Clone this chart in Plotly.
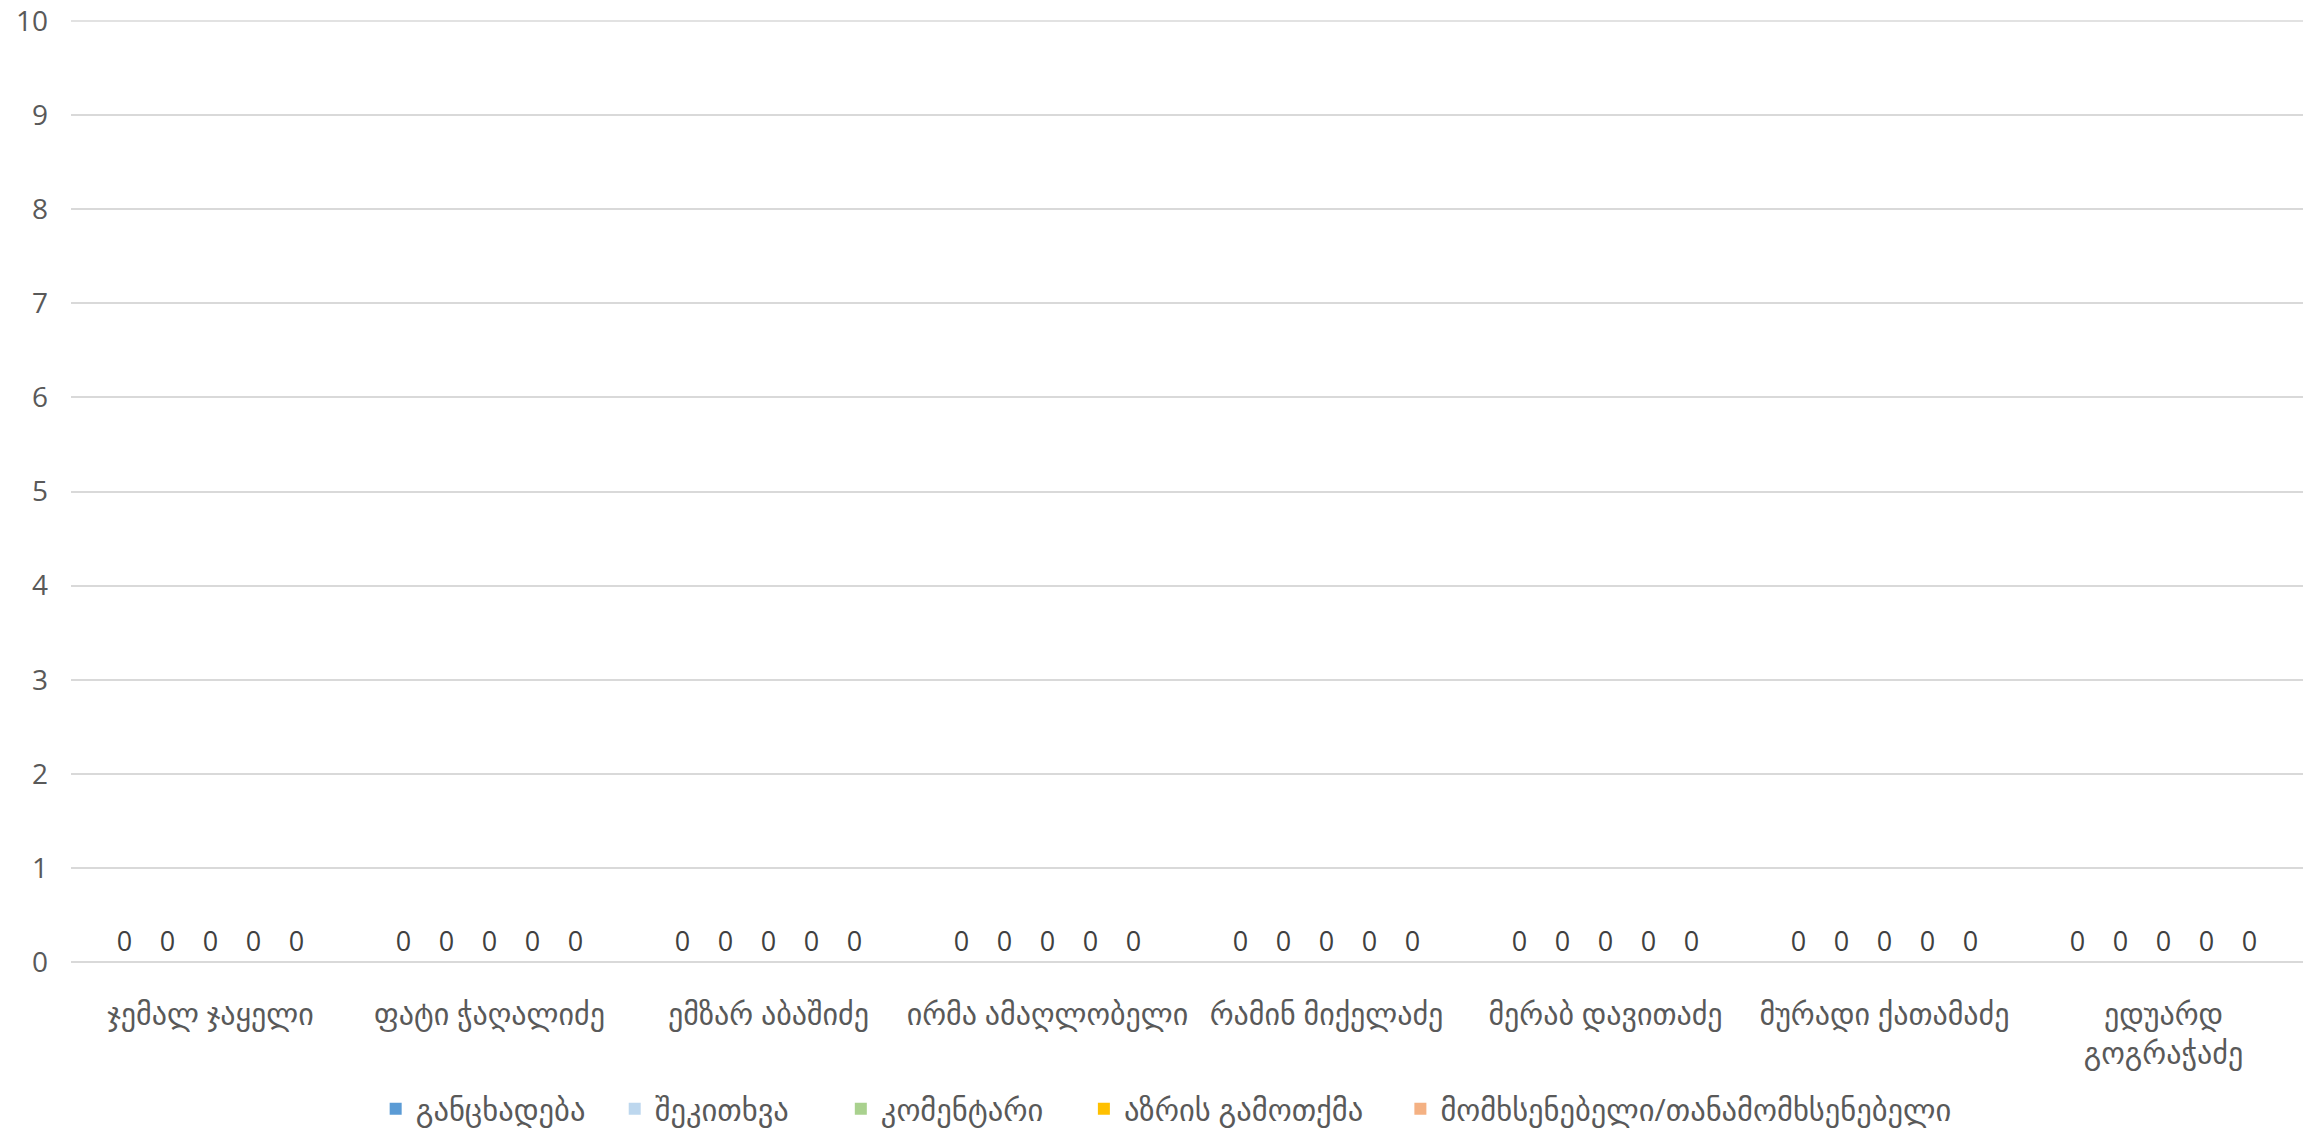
import plotly.graph_objects as go

categories = ["ჯემალ ჯაყელი", "ფატი ჭაღალიძე", "ემზარ აბაშიძე", "ირმა ამაღლობელი",
              "რამინ მიქელაძე", "მერაბ დავითაძე", "მურადი ქათამაძე", "ედუარდ<br>გოგრაჭაძე"]
series_names = ["განცხადება", "შეკითხვა", "კომენტარი", "აზრის გამოთქმა",
                "მომხსენებელი/თანამომხსენებელი"]
values = {
    "განცხადება": [0, 0, 0, 0, 0, 0, 0, 0],
    "შეკითხვა": [0, 0, 0, 0, 0, 0, 0, 0],
    "კომენტარი": [0, 0, 0, 0, 0, 0, 0, 0],
    "აზრის გამოთქმა": [0, 0, 0, 0, 0, 0, 0, 0],
    "მომხსენებელი/თანამომხსენებელი": [0, 0, 0, 0, 0, 0, 0, 0],
}
colors = ["#5B9BD5", "#BDD7EE", "#A9D18E", "#FFC000", "#F4B183"]
y_ticks = [0, 1, 2, 3, 4, 5, 6, 7, 8, 9, 10]

FONT = "Open Sans, DejaVu Sans, sans-serif"

# legend entry positions (paper x) to reproduce the wide spacing of the original
legend_x = [0.1365, 0.2436, 0.3449, 0.4538, 0.5956]
legend_ids = ["legend", "legend2", "legend3", "legend4", "legend5"]

fig = go.Figure()
for name, col, lid in zip(series_names, colors, legend_ids):
    fig.add_trace(go.Bar(
        x=categories, y=values[name], name=name,
        marker=dict(color=col),
        text=values[name], textposition="outside", constraintext="none",
        textfont=dict(size=27, color="#404040", family=FONT),
        cliponaxis=False, legend=lid,
    ))

legend_common = dict(orientation="h", yref="container", y=0.0265, yanchor="middle",
                     xanchor="left",
                     font=dict(size=30.5, color="#595959", family=FONT),
                     bgcolor="rgba(0,0,0,0)")
layout_legends = {lid: dict(x=lx, **legend_common) for lid, lx in zip(legend_ids, legend_x)}

# the page body adds an 8px offset, margins compensate for it
fig.update_layout(
    template="none",
    width=2318, height=1131,
    paper_bgcolor="white", plot_bgcolor="white",
    margin=dict(l=63, r=23, t=13, b=177, autoexpand=False),
    barmode="group", bargap=0.23, bargroupgap=0,
    font=dict(family=FONT, color="#595959"),
    showlegend=True,
    **layout_legends,
)
# top gridline (sits on the plot-area edge, so draw it unclipped)
fig.add_shape(type="line", xref="paper", x0=0, x1=1, yref="paper", y0=1, y1=1,
              line=dict(color="#D9D9D9", width=1.5), layer="below")
fig.update_yaxes(range=[0, 10], tickvals=y_ticks, showgrid=True, gridcolor="#D9D9D9",
                 gridwidth=1.5, zeroline=True, zerolinecolor="#D9D9D9", zerolinewidth=1.5,
                 showline=False, ticks="", tickfont=dict(size=28, color="#595959"),
                 ticklabelstandoff=22, ticklabeloverflow="allow",
                 automargin=False, fixedrange=True)
fig.update_xaxes(showgrid=False, showline=False, ticks="", tickfont=dict(size=30, color="#595959"),
                 ticklabelstandoff=32, tickangle=0, ticklabeloverflow="allow",
                 automargin=False, fixedrange=True)

fig.write_html("out.html")
